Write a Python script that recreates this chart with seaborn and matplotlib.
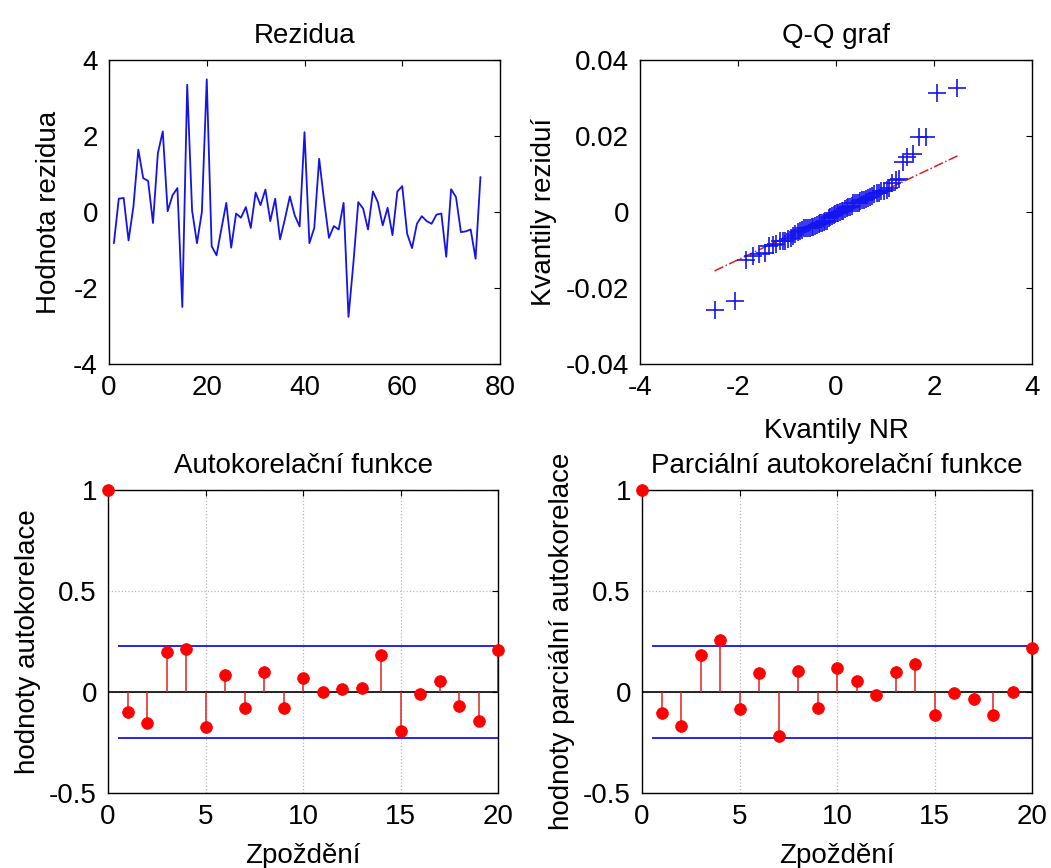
import numpy as np
import pandas as pd
import matplotlib
matplotlib.use("Agg")
import matplotlib.pyplot as plt
from matplotlib.ticker import FuncFormatter
import seaborn as sns
from statistics import NormalDist

# ---------------- data ----------------
resid = [-0.82, 0.35, 0.37, -0.75, 0.15, 1.64, 0.89, 0.82, -0.29, 1.55,
         2.12, 0.02, 0.44, 0.63, -2.50, 3.35, 0.04, -0.82, 0.00, 3.49,
         -0.90, -1.14, -0.44, 0.24, -0.94, -0.04, -0.15, 0.13, -0.42, 0.51,
         0.18, 0.59, -0.24, 0.35, -0.72, -0.18, 0.41, -0.09, -0.38, 2.10,
         -0.82, -0.42, 1.40, 0.31, -0.68, -0.37, -0.46, 0.24, -2.76, -1.35,
         0.26, 0.09, -0.46, 0.54, 0.26, -0.35, 0.11, -0.61, 0.54, 0.68,
         -0.57, -0.95, -0.31, -0.11, -0.24, -0.31, -0.07, -0.04, -1.18, 0.60,
         0.39, -0.53, -0.51, -0.46, -1.23, 0.92]
qq_scale = 0.00935  # standardised residual scale on the Q-Q plot

lags = list(range(21))
acf_vals = [1.0, -0.099, -0.153, 0.198, 0.215, -0.173, 0.083, -0.078, 0.099, -0.079,
            0.071, 0.0, 0.013, 0.020, 0.182, -0.193, -0.008, 0.054, -0.071, -0.144, 0.206]
pacf_vals = [1.0, -0.102, -0.168, 0.182, 0.256, -0.083, 0.094, -0.218, 0.104, -0.078,
             0.119, 0.053, -0.017, 0.099, 0.140, -0.112, -0.005, -0.036, -0.112, 0.0, 0.218]
conf_bound = 0.23

# ---------------- style ----------------
sns.set_theme(style="white")
plt.rcParams['font.family'] = ['Liberation Sans', 'DejaVu Sans']
plt.rcParams['text.color'] = 'black'
plt.rcParams['axes.labelcolor'] = 'black'
plt.rcParams['xtick.color'] = 'black'
plt.rcParams['ytick.color'] = 'black'
FS = 20

W, H = 1051, 868
fig = plt.figure(figsize=(W / 100, H / 100), dpi=100)

def box(l, t, r, b):
    return [l / W, 1 - b / H, (r - l) / W, (b - t) / H]

ax1 = fig.add_axes(box(109, 60, 500, 364))
ax2 = fig.add_axes(box(640, 60, 1032, 364))
ax3 = fig.add_axes(box(108, 490, 498, 793))
ax4 = fig.add_axes(box(642, 490, 1032, 793))

gfmt = FuncFormatter(lambda v, p: "%g" % round(v, 6))

def matlab_axes(ax):
    for s in ax.spines.values():
        s.set_visible(True)
        s.set_color("black")
        s.set_linewidth(1.0)
        s.set_zorder(4)
    ax.tick_params(direction="in", top=True, right=True, length=4, width=0.8,
                   labelsize=FS, pad=8, colors="black")
    ax.xaxis.set_major_formatter(gfmt)
    ax.yaxis.set_major_formatter(gfmt)
    ax.set_facecolor("white")

# --- residuals ---
t = np.arange(1, len(resid) + 1)
df_r = pd.DataFrame({"t": t, "r": resid})
sns.lineplot(data=df_r, x="t", y="r", ax=ax1, color="#1414e6", linewidth=1.3)
ax1.set_xlim(0, 80)
ax1.set_ylim(-4, 4)
ax1.set_xticks([0, 20, 40, 60, 80])
ax1.set_yticks([-4, -2, 0, 2, 4])
ax1.set_title("Rezidua", fontsize=FS, pad=12, color="black")
ax1.set_ylabel("Hodnota rezidua", fontsize=FS, labelpad=8)
ax1.set_xlabel("")
matlab_axes(ax1)

# --- Q-Q plot ---
n = len(resid)
nd = NormalDist()
qx = np.array([nd.inv_cdf((i - 0.5) / n) for i in range(1, n + 1)])
qy = np.sort(np.array(resid)) * qq_scale
df_q = pd.DataFrame({"x": qx, "y": qy})
sns.scatterplot(data=df_q, x="x", y="y", ax=ax2, marker="+", s=150,
                color="#1414f0", linewidth=1.2, zorder=3)
q1x, q3x = np.percentile(qx, [25, 75])
q1y, q3y = np.percentile(qy, [25, 75])
slope = (q3y - q1y) / (q3x - q1x)
xe = np.array([qx.min(), qx.max()])
ye = q1y + slope * (xe - q1x)
ax2.plot(xe, ye, linestyle="-.", color="#e02020", linewidth=1.1, zorder=2)
ax2.set_xlim(-4, 4)
ax2.set_ylim(-0.04, 0.04)
ax2.set_xticks([-4, -2, 0, 2, 4])
ax2.set_yticks([-0.04, -0.02, 0, 0.02, 0.04])
ax2.set_title("Q-Q graf", fontsize=FS, pad=12, color="black")
ax2.set_xlabel("Kvantily NR", fontsize=FS, labelpad=12)
ax2.set_ylabel("Kvantily reziduí", fontsize=FS, labelpad=6)
matlab_axes(ax2)

# --- ACF / PACF ---
def stem_panel(ax, vals, title, ylabel):
    ax.grid(True, linestyle=":", color="#b8b8b8", linewidth=0.9)
    ax.axhline(0, color="black", linewidth=1.2, zorder=3.5)
    ax.hlines([conf_bound, -conf_bound], 0.5, 20, color="#1414e6", linewidth=1.3, zorder=3.5)
    ax.vlines(lags, 0, vals, color="#e02020", linewidth=1.1, zorder=3.6)
    df = pd.DataFrame({"lag": lags, "v": vals})
    sns.scatterplot(data=df, x="lag", y="v", ax=ax, color="red", edgecolor="red",
                    s=70, zorder=6, clip_on=False)
    ax.set_xlim(0, 20)
    ax.set_ylim(-0.5, 1)
    ax.set_xticks([0, 5, 10, 15, 20])
    ax.set_yticks([-0.5, 0, 0.5, 1])
    ax.set_title(title, fontsize=FS, pad=12, color="black")
    ax.set_xlabel("Zpoždění", fontsize=FS, labelpad=9)
    ax.set_ylabel(ylabel, fontsize=FS, labelpad=6)
    matlab_axes(ax)
    ax.set_axisbelow(False)

stem_panel(ax3, acf_vals, "Autokorelační funkce", "hodnoty autokorelace")
stem_panel(ax4, pacf_vals, "Parciální autokorelační funkce", "hodnoty parciální autokorelace")

fig.savefig("out.png", dpi=100, facecolor="white")
